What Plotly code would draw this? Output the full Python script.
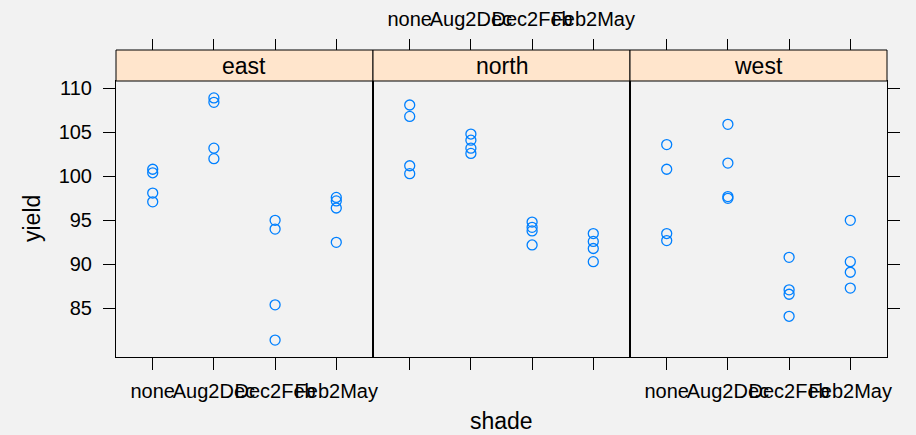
import plotly.graph_objects as go

shade_levels = ["none", "Aug2Dec", "Dec2Feb", "Feb2May"]
blocks = ["east", "north", "west"]

shade_obs = ["none"] * 4 + ["Aug2Dec"] * 4 + ["Dec2Feb"] * 4 + ["Feb2May"] * 4
east_yield = [100.8, 100.4, 98.1, 97.1, 108.9, 108.4, 103.2, 102.0,
              95.0, 94.0, 85.4, 81.4, 97.6, 97.2, 96.4, 92.5]
north_yield = [108.1, 106.8, 101.2, 100.3, 104.8, 104.1, 103.2, 102.6,
               94.8, 94.2, 93.8, 92.2, 93.5, 92.6, 91.8, 90.3]
west_yield = [103.6, 100.8, 93.5, 92.7, 105.9, 101.5, 97.7, 97.5,
              90.8, 87.1, 86.6, 84.1, 95.0, 90.3, 89.1, 87.3]
y_ticks = [85, 90, 95, 100, 105, 110]

W, H = 916, 435
FONT = "Liberation Sans, Arial, Helvetica, sans-serif"
PT_COL = "#0080ff"
BG = "#f2f2f2"
STRIP = "#ffe5cc"

panel_left, panel_right = 116, 887
panel_top, panel_bot = 81, 357
strip_top = 50
pw = (panel_right - panel_left) / 3

all_y = east_yield + north_yield + west_yield
ymin, ymax = min(all_y), max(all_y)
pad = 0.07 * (ymax - ymin)
yrange = [ymin - pad, ymax + pad]
xrange = [-0.6, len(shade_levels) - 1 + 0.6]

fig = go.Figure()
series = [east_yield, north_yield, west_yield]
for i, (b, ys) in enumerate(zip(blocks, series)):
    sfx = "" if i == 0 else str(i + 1)
    fig.add_trace(go.Scatter(
        x=shade_obs, y=ys, mode="markers", name=b,
        xaxis="x" + sfx, yaxis="y" + sfx,
        marker=dict(symbol="circle-open", size=10, color=PT_COL,
                    line=dict(width=1.3, color=PT_COL)),
        showlegend=False, hoverinfo="x+y"))
    # invisible trace to carry the top (strip) axis
    fig.add_trace(go.Scatter(
        x=shade_obs, y=ys, mode="markers", xaxis="x" + str(i + 4), yaxis="y" + sfx,
        marker=dict(opacity=0), showlegend=False, hoverinfo="skip"))

fig.add_trace(go.Scatter(
    x=shade_obs, y=west_yield, mode="markers", xaxis="x3", yaxis="y4",
    marker=dict(opacity=0), showlegend=False, hoverinfo="skip"))

tickfont = dict(family=FONT, size=20, color="black")
ydom = [1 - panel_bot / H, 1 - panel_top / H]

layout = dict(
    width=W, height=H,
    margin=dict(l=0, r=0, t=0, b=0, autoexpand=False),
    paper_bgcolor=BG, plot_bgcolor=BG,
    font=dict(family=FONT, color="black"),
    showlegend=False,
)

for i in range(3):
    sfx = "" if i == 0 else str(i + 1)
    x0 = (panel_left + i * pw) / W
    x1 = (panel_left + (i + 1) * pw) / W
    layout["xaxis" + sfx] = dict(
        domain=[x0, x1], anchor="y" + sfx, type="category",
        categoryorder="array", categoryarray=shade_levels,
        range=xrange, showgrid=False, zeroline=False, automargin=False,
        showline=True, linecolor="black", linewidth=1, mirror=True,
        ticks="outside", ticklen=12, tickcolor="black", tickwidth=1,
        showticklabels=(i != 1), tickangle=0, tickfont=tickfont,
        ticklabelstandoff=4,
    )
    layout["xaxis" + str(i + 4)] = dict(
        overlaying="x" + sfx, anchor="free", position=1 - strip_top / H,
        side="top", type="category", automargin=False,
        categoryorder="array", categoryarray=shade_levels,
        range=xrange, showgrid=False, zeroline=False, showline=False,
        ticks="outside", ticklen=11, tickcolor="black", tickwidth=1,
        showticklabels=(i == 1), tickangle=0, tickfont=tickfont,
        ticklabelstandoff=5,
    )
    layout["yaxis" + sfx] = dict(
        domain=ydom, anchor="x" + sfx, range=yrange, automargin=False,
        showgrid=False, zeroline=False,
        showline=True, linecolor="black", linewidth=1, mirror=True,
        tickvals=y_ticks,
        ticks="outside" if i == 0 else "", ticklen=12, tickcolor="black",
        showticklabels=(i == 0), tickfont=tickfont, ticklabelstandoff=7,
    )

layout["yaxis4"] = dict(
    overlaying="y3", anchor="x3", side="right", range=yrange, automargin=False,
    showgrid=False, zeroline=False, showline=False,
    tickvals=y_ticks, ticks="outside", ticklen=12, tickcolor="black",
    showticklabels=False,
)

shapes = []
annotations = []
for i, b in enumerate(blocks):
    sfx = "" if i == 0 else str(i + 1)
    shapes.append(dict(
        type="rect", xref="x" + sfx + " domain", yref="paper",
        x0=0, x1=1, y0=1 - panel_top / H, y1=1 - strip_top / H,
        fillcolor=STRIP, line=dict(color="black", width=1), layer="above"))
    annotations.append(dict(
        text=b, xref="x" + sfx + " domain", yref="paper",
        x=0.5, y=1 - (panel_top + strip_top) / 2 / H,
        showarrow=False, font=dict(family=FONT, size=23, color="black"),
        xanchor="center", yanchor="middle"))

annotations.append(dict(
    text="shade", xref="paper", yref="paper",
    x=(panel_left + panel_right) / 2 / W, y=1 - 421 / H,
    showarrow=False, font=dict(family=FONT, size=23, color="black"),
    xanchor="center", yanchor="middle"))
annotations.append(dict(
    text="yield", xref="paper", yref="paper",
    x=32 / W, y=1 - (panel_top + panel_bot) / 2 / H, textangle=-90,
    showarrow=False, font=dict(family=FONT, size=23, color="black"),
    xanchor="center", yanchor="middle"))

layout["shapes"] = shapes
layout["annotations"] = annotations
fig.update_layout(**layout)

fig.write_html(
    "out.html",
    config={"displayModeBar": False},
    post_script="document.body.style.margin='0';document.body.style.background='%s';" % BG,
)
